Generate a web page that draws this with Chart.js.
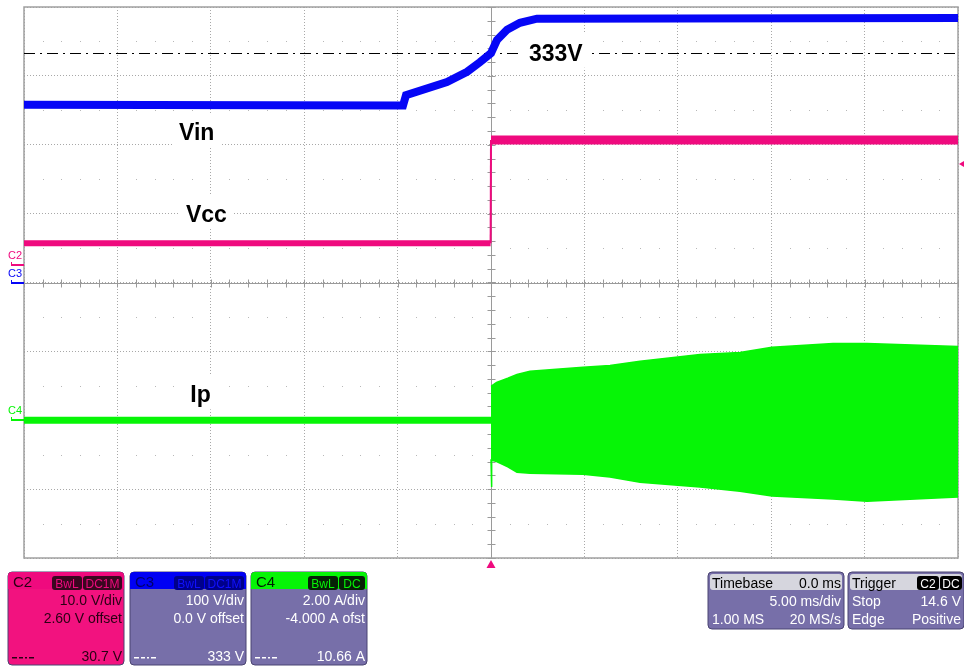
<!DOCTYPE html>
<html>
<head>
<meta charset="utf-8">
<script src="https://cdn.jsdelivr.net/npm/chart.js@4/dist/chart.umd.min.js"></script>
<style>
  html, body { margin: 0; padding: 0; background: #ffffff; }
  canvas { display: block; }
</style>
</head>
<body>
<canvas id="c" width="964" height="666"></canvas>
<script>
// ---------------- Data ----------------
// Time axis: 5.00 ms/div, 10 divisions, trigger at centre (0 ms)
const timeTicksMs = [-25, -20, -15, -10, -5, 0, 5, 10, 15, 20, 25];

// Channel settings (per division and offset)
const vinVoltsPerDiv = 100, vinOffset = 0.0;      // C3
const vccVoltsPerDiv = 10,  vccOffset = 2.60;     // C2
const ipAmpsPerDiv   = 2.0, ipOffset  = -4.0;     // C4

// C3 : Vin (V)
const vinTime  = [-25, -4.71, -4.55, -2.36, -1.28, -0.59, 0, 0.32, 0.86, 1.55, 2.46, 25];
const vinVolts = [258, 257, 272, 291, 306, 320, 333, 352, 367, 377, 383, 384];

// C2 : Vcc (V)
const vccTime  = [-25, -0.02, 0, 25];
const vccVolts = [3.1, 3.1, 18.1, 18.1];

// C4 : Ip (A) before switching starts
const ipPreTime = [-25, 0];
const ipPreAmps = [0, 0];

// C4 : Ip envelope (A) after switching starts
const ipEnvTime = [0, 0.02, 0.05, 0.3, 0.9, 1.39, 2.09, 3.5, 4.93, 6.37, 7.98, 11.19, 13.33, 15.04, 18.31, 20.13, 25];
const ipMaxAmps = [0.97, 0.98, 1.0, 1.1, 1.22, 1.33, 1.42, 1.48, 1.54, 1.59, 1.71, 1.91, 1.97, 2.12, 2.23, 2.23, 2.14];
const ipMinAmps = [-1.13, -1.94, -1.16, -1.2, -1.35, -1.51, -1.54, -1.55, -1.57, -1.65, -1.80, -1.94, -2.06, -2.20, -2.29, -2.35, -2.23];

// Reference level and trigger
const refLevelVolts = 333;
const triggerLevelVolts = 14.6;

// ---------------- Helpers ----------------
const toDiv = (v, perDiv, off) => (v + off) / perDiv;
const pts = (ts, vs, perDiv, off) => ts.map((t, i) => ({ x: t, y: toDiv(vs[i], perDiv, off) }));

const BLUE = '#0606f6';
const PINK = '#ef0a7e';
const GREEN = '#06f506';
const BOXBODY = '#776fa9';

const scopePlugin = {
  id: 'scope',
  beforeDatasetsDraw(chart) {
    const { ctx, chartArea: a, scales: { x, y } } = chart;
    ctx.save();
    // faint dots on half-division rows
    ctx.fillStyle = '#b8b8b8';
    for (let d = -3.5; d <= 3.5; d += 1) {
      const py = Math.round(y.getPixelForValue(d));
      for (let t = -25; t <= 25.001; t += 1) {
        if (Math.abs(t % 5) < 1e-6) continue;
        ctx.fillRect(Math.round(x.getPixelForValue(t)), py, 1, 1);
      }
    }
    // solid centre axes with minor ticks
    ctx.strokeStyle = '#9a9a9a';
    ctx.lineWidth = 1;
    const cx = Math.round(x.getPixelForValue(0)) + 0.5;
    const cy = Math.round(y.getPixelForValue(0)) + 0.5;
    ctx.beginPath();
    ctx.moveTo(a.left, cy); ctx.lineTo(a.right, cy);
    ctx.moveTo(cx, a.top); ctx.lineTo(cx, a.bottom);
    for (let t = -25; t <= 25.001; t += 1) {
      const px = Math.round(x.getPixelForValue(t)) + 0.5;
      ctx.moveTo(px, cy - 4); ctx.lineTo(px, cy + 4);
    }
    for (let d = -4; d <= 4.001; d += 0.2) {
      const py = Math.round(y.getPixelForValue(d)) + 0.5;
      ctx.moveTo(cx - 4, py); ctx.lineTo(cx + 4, py);
    }
    ctx.stroke();
    // border
    ctx.strokeStyle = '#a0a0a0';
    ctx.lineWidth = 1.5;
    ctx.strokeRect(a.left, a.top, a.right - a.left, a.bottom - a.top);
    // 333 V dash-dot reference line
    const ry = Math.round(y.getPixelForValue(toDiv(refLevelVolts, vinVoltsPerDiv, vinOffset))) + 0.5;
    ctx.strokeStyle = '#000000';
    ctx.lineWidth = 1;
    ctx.setLineDash([11, 5, 2, 5]);
    ctx.beginPath();
    ctx.moveTo(a.left, ry); ctx.lineTo(a.right, ry);
    ctx.stroke();
    ctx.setLineDash([]);
    ctx.restore();
  },
  afterDatasetsDraw(chart) {
    const { ctx, chartArea: a, scales: { x, y } } = chart;
    ctx.save();
    // trace labels with white backgrounds
    const labels = [
      { text: 'Vin', t: -16.7, d: 2.07 },
      { text: 'Vcc', t: -16.33, d: 0.88 },
      { text: 'Ip', t: -16.1, d: -1.74 },
      { text: '333V', t: 2.03, d: 3.22 }
    ];
    ctx.font = 'bold 23px "Liberation Sans", Arial, sans-serif';
    ctx.textBaseline = 'alphabetic';
    ctx.textAlign = 'left';
    labels.forEach(l => {
      const px = x.getPixelForValue(l.t), py = y.getPixelForValue(l.d);
      const w = ctx.measureText(l.text).width;
      ctx.fillStyle = '#ffffff';
      ctx.fillRect(px - 6, py - 27, w + 12, 34);
      ctx.fillStyle = '#000000';
      ctx.fillText(l.text, px, py);
    });
    ctx.restore();
  },
  afterDraw(chart) {
    const { ctx, chartArea: a, scales: { x, y } } = chart;
    ctx.save();
    // channel ground markers on the left
    const marks = [
      { name: 'C2', color: PINK, d: toDiv(0, vccVoltsPerDiv, vccOffset) },
      { name: 'C3', color: BLUE, d: toDiv(0, vinVoltsPerDiv, vinOffset) },
      { name: 'C4', color: GREEN, d: toDiv(0, ipAmpsPerDiv, ipOffset) }
    ];
    ctx.font = '11px "Liberation Sans", Arial, sans-serif';
    ctx.textAlign = 'left';
    marks.forEach(m => {
      const py = Math.round(y.getPixelForValue(m.d));
      ctx.fillStyle = m.color;
      ctx.fillText(m.name, 8, py - 6);
      ctx.fillRect(11, py - 1, a.left - 11, 2);
      ctx.fillRect(11, py - 3, 1, 3);
    });
    // trigger level marker (right side)
    const ty = y.getPixelForValue(toDiv(triggerLevelVolts, vccVoltsPerDiv, vccOffset));
    ctx.fillStyle = PINK;
    ctx.beginPath();
    ctx.moveTo(a.right + 1, ty); ctx.lineTo(a.right + 6, ty - 3); ctx.lineTo(a.right + 6, ty + 3);
    ctx.closePath(); ctx.fill();
    // trigger position marker (bottom)
    const tx = x.getPixelForValue(0);
    ctx.beginPath();
    ctx.moveTo(tx, a.bottom + 2); ctx.lineTo(tx - 4.5, a.bottom + 10); ctx.lineTo(tx + 4.5, a.bottom + 10);
    ctx.closePath(); ctx.fill();

    // ---------- info boxes ----------
    function rr(x0, y0, w, h, r) {
      ctx.beginPath();
      ctx.moveTo(x0 + r, y0);
      ctx.lineTo(x0 + w - r, y0); ctx.quadraticCurveTo(x0 + w, y0, x0 + w, y0 + r);
      ctx.lineTo(x0 + w, y0 + h - r); ctx.quadraticCurveTo(x0 + w, y0 + h, x0 + w - r, y0 + h);
      ctx.lineTo(x0 + r, y0 + h); ctx.quadraticCurveTo(x0, y0 + h, x0, y0 + h - r);
      ctx.lineTo(x0, y0 + r); ctx.quadraticCurveTo(x0, y0, x0 + r, y0);
      ctx.closePath();
    }
    const F = '"Liberation Sans", Arial, sans-serif';
    function badge(x0, x1, text, bg, fg) {
      rr(x0, 576, x1 - x0, 14, 3);
      ctx.fillStyle = bg; ctx.fill();
      ctx.fillStyle = fg;
      ctx.font = '12px ' + F;
      ctx.textAlign = 'center';
      ctx.fillText(text, (x0 + x1) / 2, 588);
    }
    function dashSym(x0, yy, col) {
      ctx.fillStyle = col;
      ctx.fillRect(x0, yy, 5, 1.5);
      ctx.fillRect(x0 + 7, yy, 4, 1.5);
      ctx.fillRect(x0 + 13, yy, 2, 1.5);
      ctx.fillRect(x0 + 17, yy, 5, 1.5);
    }
    function chanBox(x0, w, name, headBg, headFg, badges, badgeBg, badgeFg, bodyBg, bodyFg, lines, val) {
      rr(x0, 572, w, 93, 4);
      ctx.fillStyle = bodyBg; ctx.fill();
      ctx.strokeStyle = '#4a4472'; ctx.lineWidth = 1; ctx.stroke();
      ctx.save();
      rr(x0, 572, w, 93, 4); ctx.clip();
      ctx.fillStyle = headBg;
      ctx.fillRect(x0, 572, w, 17);
      ctx.restore();
      ctx.fillStyle = headFg;
      ctx.font = '15px ' + F;
      ctx.textAlign = 'left';
      ctx.fillText(name, x0 + 5, 587);
      badges.forEach(b => badge(b[0], b[1], b[2], badgeBg, badgeFg));
      ctx.fillStyle = bodyFg;
      ctx.font = '14px ' + F;
      ctx.textAlign = 'right';
      ctx.fillText(lines[0], x0 + w - 2, 605);
      ctx.fillText(lines[1], x0 + w - 2, 623);
      ctx.fillText(val, x0 + w - 2, 661);
      dashSym(x0 + 4, 657, bodyFg);
    }
    chanBox(8, 116, 'C2', PINK, '#2a0014', [[52, 82, 'BwL'], [83, 122, 'DC1M']], '#3a0620', PINK,
            '#f2127f', '#2a0014', ['10.0 V/div', '2.60 V offset'], '30.7 V');
    chanBox(130, 116, 'C3', '#0000f4', '#00006a', [[174, 204, 'BwL'], [205, 244, 'DC1M']], '#00008a', '#1010ff',
            BOXBODY, '#ffffff', ['100 V/div', '0.0 V offset'], '333 V');
    chanBox(251, 116, 'C4', '#06f506', '#002000', [[308, 338, 'BwL'], [339, 365, 'DC']], '#062006', '#06f506',
            BOXBODY, '#ffffff', ['2.00 A/div', '-4.000 A ofst'], '10.66 A');

    function infoBox(x0, w, title, rightHead, badges, rows) {
      rr(x0, 572, w, 57, 4);
      ctx.fillStyle = BOXBODY; ctx.fill();
      ctx.strokeStyle = '#4a4472'; ctx.lineWidth = 1; ctx.stroke();
      rr(x0 + 2, 574, w - 4, 16, 3);
      ctx.fillStyle = '#d6d6de'; ctx.fill();
      ctx.fillStyle = '#000000';
      ctx.font = '14px ' + F;
      ctx.textAlign = 'left';
      ctx.fillText(title, x0 + 4, 588);
      if (rightHead) { ctx.textAlign = 'right'; ctx.fillText(rightHead, x0 + w - 3, 588); }
      badges.forEach(b => badge(b[0], b[1], b[2], '#000000', '#ffffff'));
      ctx.fillStyle = '#ffffff';
      ctx.font = '14px ' + F;
      rows.forEach((r, i) => {
        const yy = 606 + i * 18;
        ctx.textAlign = 'left'; if (r[0]) ctx.fillText(r[0], x0 + 4, yy);
        ctx.textAlign = 'right'; if (r[1]) ctx.fillText(r[1], x0 + w - 3, yy);
      });
    }
    infoBox(708, 136, 'Timebase', '0.0 ms', [], [['', '5.00 ms/div'], ['1.00 MS', '20 MS/s']]);
    infoBox(848, 116, 'Trigger', '', [[917, 939, 'C2'], [940, 962, 'DC']], [['Stop', '14.6 V'], ['Edge', 'Positive']]);
    ctx.restore();
  }
};

const ctx = document.getElementById('c').getContext('2d');
new Chart(ctx, {
  type: 'line',
  data: {
    datasets: [
      { label: 'Ip max', data: pts(ipEnvTime, ipMaxAmps, ipAmpsPerDiv, ipOffset),
        borderColor: GREEN, backgroundColor: GREEN, borderWidth: 1.5, fill: '+1' },
      { label: 'Ip min', data: pts(ipEnvTime, ipMinAmps, ipAmpsPerDiv, ipOffset),
        borderColor: GREEN, backgroundColor: GREEN, borderWidth: 1.5, fill: false },
      { label: 'Ip', data: pts(ipPreTime, ipPreAmps, ipAmpsPerDiv, ipOffset),
        borderColor: GREEN, borderWidth: 7, fill: false },
      { label: 'Vcc', data: pts(vccTime, vccVolts, vccVoltsPerDiv, vccOffset),
        borderColor: PINK, borderWidth: 6, fill: false,
        segment: { borderWidth: c => (c.p0.parsed.x >= 0 ? 9 : (c.p1.parsed.x >= 0 ? 2 : 6)) } },
      { label: 'Vin', data: pts(vinTime, vinVolts, vinVoltsPerDiv, vinOffset),
        borderColor: BLUE, borderWidth: 8, fill: false }
    ]
  },
  options: {
    responsive: false,
    animation: false,
    devicePixelRatio: 1,
    layout: { padding: { left: 24, top: 7, right: 6, bottom: 108 } },
    plugins: { legend: { display: false }, tooltip: { enabled: false } },
    elements: { point: { radius: 0 }, line: { tension: 0, borderJoinStyle: 'miter', borderCapStyle: 'butt' } },
    scales: {
      x: {
        type: 'linear', min: -25, max: 25,
        afterBuildTicks: s => { s.ticks = timeTicksMs.map(v => ({ value: v })); },
        ticks: { display: false },
        grid: { color: '#a8a8a8', lineWidth: 1, drawTicks: false },
        border: { display: false, dash: [1, 2] }
      },
      y: {
        type: 'linear', min: -4, max: 4,
        ticks: { display: false, stepSize: 1 },
        grid: { color: '#a8a8a8', lineWidth: 1, drawTicks: false },
        border: { display: false, dash: [1, 2] }
      }
    }
  },
  plugins: [scopePlugin]
});
</script>
</body>
</html>
